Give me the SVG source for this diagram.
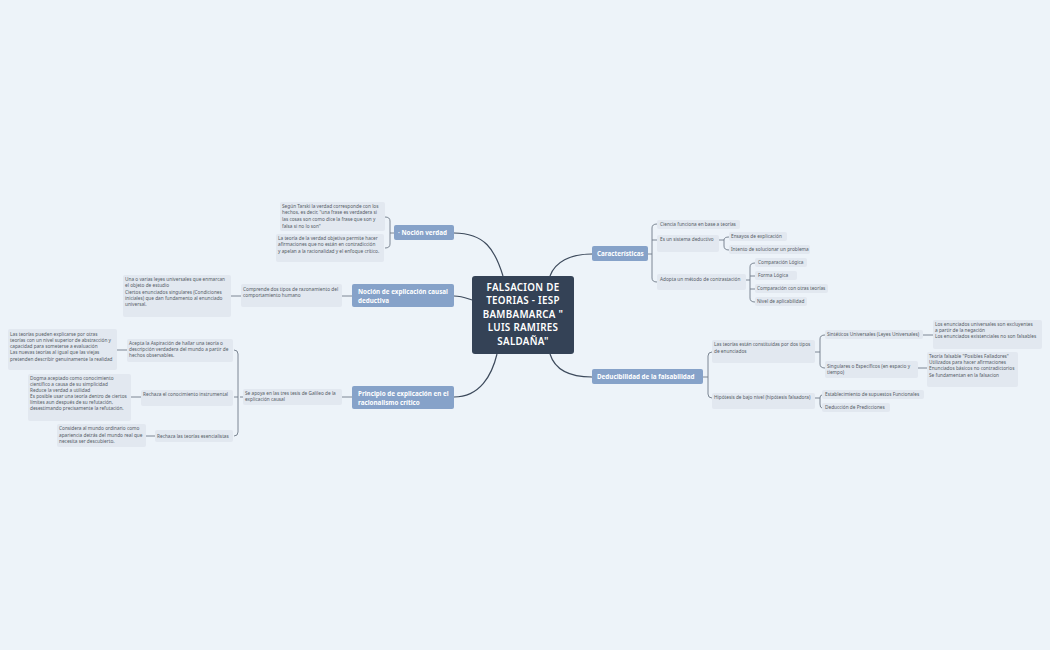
<svg xmlns="http://www.w3.org/2000/svg" width="1050" height="650" viewBox="0 0 1050 650">
<style>
.m{fill:#86a2c9}
.mt{font-family:"Noto Sans",sans-serif;font-size:6.3px;font-weight:bold;fill:#fff}
.l{fill:#e2e8f0}
.lt{font-family:"Noto Sans",sans-serif;font-size:4.75px;fill:#555c66}
.c{fill:none;stroke:#3d4a5c;stroke-width:1.2}
.b{fill:none;stroke:#6f7a88;stroke-width:0.9}
</style>
<rect width="1050" height="650" fill="#edf3f9"/>
<g id="connectors">
<path class="c" d="M454,233 C485,233 495,250 503,276"/>
<path class="c" d="M454,296 C462,296 466,298 472,300"/>
<path class="c" d="M454,397 C480,397 492,375 497,354"/>
<path class="c" d="M592,254 C570,254 555,262 550,276"/>
<path class="c" d="M592,377 C570,377 555,370 550,354"/>
<path class="b" d="M394,233 H390 M385,217 Q390,217 390,221 V244 Q390,248 385,248"/>
<path class="b" d="M352,296 H342 M241,296 H231"/>
<path class="b" d="M352,397 H342 M243,397 H240 M234,350 Q238,350 238,354 V432 Q238,436 234,436 M234,397 H238 M127,350 H117 M141,397 H131 M155,436 H146"/>
<path class="b" d="M648,254 H652 M657,224 Q652,224 652,228 V278 Q652,282 657,282 M652,240 H657"/>
<path class="b" d="M719,240 H724 M729,237 Q724,237 724,240 V246 Q724,250 729,250"/>
<path class="b" d="M746,280 H750 M755,263 Q750,263 750,267 V298 Q750,302 755,302 M750,276 H755 M750,289 H755"/>
<path class="b" d="M703,377 H708 M712,352 Q708,352 708,356 V394 Q708,398 712,398"/>
<path class="b" d="M815,352 H820 M825,335 Q820,335 820,339 V364 Q820,368 825,368"/>
<path class="b" d="M815,398 H820 M822,395 Q820,395 820,398 V404 Q820,408 822,408"/>
<path class="b" d="M923,335 H933 M918,368 H927"/>
</g>
<g id="center">
<rect x="472" y="276" width="102" height="78" rx="3" fill="#344256"/>
<text font-family="Noto Sans,sans-serif" font-size="9.8" font-weight="600" letter-spacing="0.3" fill="#fff" text-anchor="middle">
<tspan x="523" y="291">FALSACION DE</tspan><tspan x="523" y="304">TEORIAS - IESP</tspan><tspan x="523" y="318">BAMBAMARCA "</tspan><tspan x="523" y="331">LUIS RAMIRES</tspan><tspan x="523" y="345">SALDAÑA"</tspan></text>
</g>
<g id="n-verdad"><rect class="m" x="394" y="225" width="60" height="15" rx="2"/><text class="mt" x="398" y="235">· Noción verdad</text></g>
<g id="n-causal"><rect class="m" x="352" y="284" width="102" height="23" rx="2"/><text class="mt"><tspan x="358" y="294">Noción de explicación causal</tspan><tspan x="358" y="303">deductiva</tspan></text></g>
<g id="n-principio"><rect class="m" x="352" y="386" width="102" height="23" rx="2"/><text class="mt"><tspan x="358" y="396">Principio de explicación en el</tspan><tspan x="358" y="405">racionalismo crítico</tspan></text></g>
<g id="n-caract"><rect class="m" x="592" y="246" width="56" height="15" rx="2"/><text class="mt" x="597" y="256">Características</text></g>
<g id="n-deduc"><rect class="m" x="592" y="369" width="111" height="15" rx="2"/><text class="mt" x="597" y="379">Deducibilidad de la falsabilidad</text></g>

<g id="l-tarski"><rect class="l" x="280" y="202" width="105" height="29" rx="2"/><text class="lt"><tspan x="282" y="208">Según Tarski la verdad corresponde con los</tspan><tspan x="282" y="214">hechos, es decir, "una frase es verdadera si</tspan><tspan x="282" y="221">las cosas son como dice la frase que son y</tspan><tspan x="282" y="228">falsa si no lo son"</tspan></text></g>
<g id="l-teoria"><rect class="l" x="276" y="234" width="108" height="28" rx="2"/><text class="lt"><tspan x="278" y="240">La teoría de la verdad objetiva permite hacer</tspan><tspan x="278" y="246">afirmaciones que no están en contradicción</tspan><tspan x="278" y="253">y apelan a la racionalidad y el enfoque crítico.</tspan></text></g>
<g id="l-una"><rect class="l" x="123" y="275" width="108" height="42" rx="2"/><text class="lt"><tspan x="125" y="281">Una o varias leyes universales que enmarcan</tspan><tspan x="125" y="287">el objeto de estudio</tspan><tspan x="125" y="294">Ciertos enunciados singulares (Condiciones</tspan><tspan x="125" y="300">iniciales) que dan fundamento al enunciado</tspan><tspan x="125" y="306">universal.</tspan></text></g>
<g id="l-comprende"><rect class="l" x="241" y="284" width="101" height="23" rx="2"/><text class="lt"><tspan x="243" y="291">Comprende dos tipos de razonamiento del</tspan><tspan x="243" y="297">comportamiento humano</tspan></text></g>

<g id="l-lasteorias"><rect class="l" x="8" y="329" width="109" height="41" rx="2"/><text class="lt"><tspan x="10" y="336">Las teorías pueden explicarse por otras</tspan><tspan x="10" y="342">teorías con un nivel superior de abstracción y</tspan><tspan x="10" y="348">capacidad para someterse a evaluación</tspan><tspan x="10" y="354">Las nuevas teorías al igual que las viejas</tspan><tspan x="10" y="361">pretenden describir genuinamente la realidad</tspan></text></g>
<g id="l-acepta"><rect class="l" x="127" y="339" width="106" height="23" rx="2"/><text class="lt"><tspan x="129" y="345">Acepta la Aspiración de hallar una teoría o</tspan><tspan x="129" y="351">descripción verdadera del mundo a partir de</tspan><tspan x="129" y="357">hechos observables.</tspan></text></g>
<g id="l-dogma"><rect class="l" x="28" y="374" width="103" height="47" rx="2"/><text class="lt"><tspan x="30" y="380">Dogma aceptado como conocimiento</tspan><tspan x="30" y="386">científico a causa de su simplicidad</tspan><tspan x="30" y="392">Reduce la verdad a utilidad</tspan><tspan x="30" y="398">Es posible usar una teoría dentro de ciertos</tspan><tspan x="30" y="404">límites aun después de su refutación,</tspan><tspan x="30" y="410">desestimando precisamente la refutación.</tspan></text></g>
<g id="l-instr"><rect class="l" x="141" y="390" width="92" height="16" rx="2"/><text class="lt" x="143" y="396">Rechaza el conocimiento instrumental</text></g>
<g id="l-considera"><rect class="l" x="57" y="424" width="89" height="23" rx="2"/><text class="lt"><tspan x="59" y="430">Considera al mundo ordinario como</tspan><tspan x="59" y="437">apariencia detrás del mundo real que</tspan><tspan x="59" y="443">necesita ser descubierto.</tspan></text></g>
<g id="l-esenc"><rect class="l" x="155" y="430" width="78" height="12" rx="2"/><text class="lt" x="157" y="438">Rechaza las teorías esencialistas</text></g>
<g id="l-seapoya"><rect class="l" x="243" y="389" width="99" height="16" rx="2"/><text class="lt"><tspan x="245" y="395">Se apoya en las tres tesis de Galileo de la</tspan><tspan x="245" y="401">explicación causal</tspan></text></g>

<g id="l-ciencia"><rect class="l" x="657" y="220" width="83" height="9" rx="2"/><text class="lt" x="660" y="226">Ciencia funciona en base a teorías</text></g>
<g id="l-sistema"><rect class="l" x="657" y="235" width="62" height="17" rx="2"/><text class="lt" x="660" y="241">Es un sistema deductivo</text></g>
<g id="l-ensayos"><rect class="l" x="729" y="232" width="58" height="9" rx="2"/><text class="lt" x="731" y="238">Ensayos de explicación</text></g>
<g id="l-intento"><rect class="l" x="729" y="245" width="81" height="9" rx="2"/><text class="lt" x="731" y="251">Intento de solucionar un problema</text></g>
<g id="l-adopta"><rect class="l" x="657" y="274" width="89" height="16" rx="2"/><text class="lt" x="660" y="281">Adopta un método de contrastación</text></g>
<g id="l-complog"><rect class="l" x="755" y="258" width="52" height="9" rx="2"/><text class="lt" x="758" y="264">Comparación Lógica</text></g>
<g id="l-forma"><rect class="l" x="755" y="271" width="42" height="9" rx="2"/><text class="lt" x="758" y="277">Forma Lógica</text></g>
<g id="l-compotras"><rect class="l" x="755" y="284" width="73" height="9" rx="2"/><text class="lt" x="757" y="290">Comparación con otras teorías</text></g>
<g id="l-nivel"><rect class="l" x="755" y="297" width="52" height="9" rx="2"/><text class="lt" x="757" y="303">Nivel de aplicabilidad</text></g>

<g id="l-constit"><rect class="l" x="712" y="340" width="103" height="23" rx="2"/><text class="lt"><tspan x="714" y="346">Las teorías están constituidas por dos tipos</tspan><tspan x="714" y="353">de enunciados</tspan></text></g>
<g id="l-hipot"><rect class="l" x="712" y="393" width="103" height="16" rx="2"/><text class="lt" x="714" y="399">Hipótesis de bajo nivel (hipótesis falsadora)</text></g>
<g id="l-sint"><rect class="l" x="825" y="330" width="98" height="9" rx="2"/><text class="lt" x="827" y="336">Sintéticos Universales (Leyes Universales)</text></g>
<g id="l-sing"><rect class="l" x="825" y="361" width="93" height="17" rx="2"/><text class="lt"><tspan x="827" y="368">Singulares o Específicos (en espacio y</tspan><tspan x="827" y="374">tiempo)</tspan></text></g>
<g id="l-losenun"><rect class="l" x="933" y="320" width="109" height="29" rx="2"/><text class="lt"><tspan x="935" y="326">Los enunciados universales son excluyentes</tspan><tspan x="935" y="332">a partir de la negación</tspan><tspan x="935" y="338">Los enunciados existenciales no son falsables</tspan></text></g>
<g id="l-teofals"><rect class="l" x="927" y="352" width="91" height="35" rx="2"/><text class="lt"><tspan x="929" y="358">Teoría falsable "Posibles Falladores"</tspan><tspan x="929" y="364">Utilizados para hacer afirmaciones</tspan><tspan x="929" y="370">Enunciados básicos no contradictorios</tspan><tspan x="929" y="377">Se fundamentan en la falsacion</tspan></text></g>
<g id="l-estab"><rect class="l" x="822" y="390" width="102" height="9" rx="2"/><text class="lt" x="825" y="396">Establecimiento de supuestos Funcionales</text></g>
<g id="l-deducp"><rect class="l" x="822" y="403" width="68" height="9" rx="2"/><text class="lt" x="825" y="409">Deducción de Predicciones</text></g>
</svg>
